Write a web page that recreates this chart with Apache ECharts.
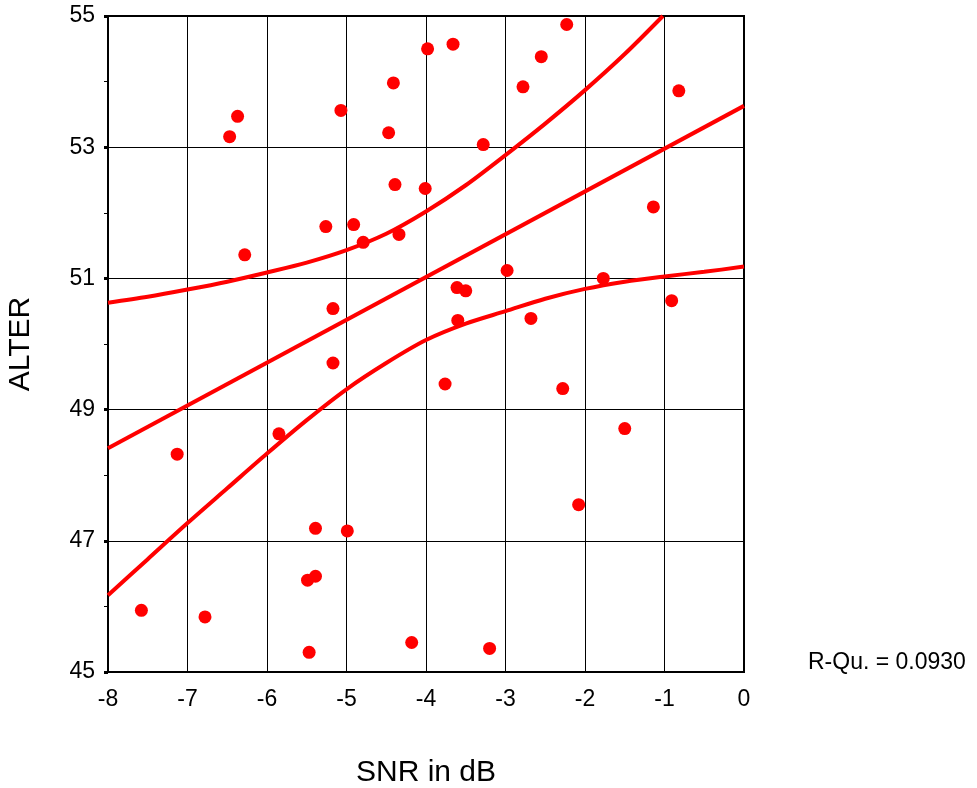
<!DOCTYPE html>
<html>
<head>
<meta charset="utf-8">
<script src="https://cdn.jsdelivr.net/npm/echarts@6/dist/echarts.min.js"></script>
<style>
  html, body { margin: 0; padding: 0; background: #fff; }
  #chart { width: 977px; height: 788px; }
</style>
</head>
<body>
<div id="chart"></div>
<script>
// scatter points: SNR in dB vs. ALTER
const snr = [-7.58, -7.13, -6.78, -6.47, -6.37, -6.28, -5.85, -5.49, -5.39, -5.39, -5.47,
  -5.26, -5.17, -5.17, -5.07, -4.99, -4.91, -4.79, -4.47, -4.41, -4.39, -4.34, -4.18,
  -4.01, -3.98, -3.76, -3.66, -3.61, -3.60, -3.50, -3.28, -3.20, -2.98, -2.78, -2.68,
  -2.55, -2.28, -2.23, -2.08, -1.77, -1.50, -1.14, -0.91, -0.82]
const alter = [45.94, 48.32, 45.84, 53.16, 53.47, 51.36, 48.63, 46.40, 46.46, 47.19, 45.30,
  51.79, 50.54, 49.71, 53.56, 47.15, 51.82, 51.55, 53.22, 53.98, 52.43, 51.67, 45.45,
  52.37, 54.50, 49.39, 54.57, 50.86, 50.36, 50.81, 53.04, 45.36, 51.12, 53.92, 50.39,
  54.38, 49.32, 54.87, 47.55, 51.00, 48.71, 52.09, 50.66, 53.86]

// regression line
const fitX = [-8, 0]
const fitY = [48.41, 53.63]

// confidence band
const upperX = [-8, -7.5, -7, -6.5, -6, -5.5, -5, -4.5, -4, -3.5, -3, -2.5, -2, -1.5, -1.02]
const upperY = [50.63, 50.72, 50.83, 50.95, 51.09, 51.24, 51.43, 51.68, 52.02, 52.42, 52.88, 53.36, 53.87, 54.42, 55.0]
const lowerX = [-8, -7.5, -7, -6.5, -6, -5.5, -5, -4.5, -4, -3.5, -3, -2.5, -2, -1.5, -1, -0.5, 0]
const lowerY = [46.17, 46.72, 47.27, 47.80, 48.33, 48.84, 49.31, 49.71, 50.06, 50.31, 50.50, 50.69, 50.84, 50.95, 51.03, 51.10, 51.18]

const rSquared = 'R-Qu. = 0.0930'

const zip = (xs, ys) => xs.map((x, i) => [x, ys[i]])
const font = 'Liberation Sans, Arial, sans-serif'
const red = '#ff0000'

const chart = echarts.init(document.getElementById('chart'))

const lineStyle = { color: red, width: 4 }

chart.setOption({
  animation: false,
  backgroundColor: '#fff',
  grid: {
    left: 108, right: 233, top: 16, bottom: 116,
    outerBoundsMode: 'none',
    show: true, borderColor: '#000', borderWidth: 2
  },
  xAxis: {
    type: 'value',
    min: -8, max: 0, interval: 1,
    name: 'SNR in dB',
    nameLocation: 'middle',
    nameGap: 86,
    nameTextStyle: { color: '#000', fontSize: 30, fontFamily: font },
    axisLine: { show: true, onZero: false, lineStyle: { color: '#000', width: 2 } },
    axisTick: { show: false },
    axisLabel: { color: '#000', fontSize: 23, fontFamily: font, margin: 16 },
    splitLine: { show: true, lineStyle: { color: '#000', width: 1 } }
  },
  yAxis: {
    type: 'value',
    min: 45, max: 55, interval: 2,
    name: 'ALTER',
    nameLocation: 'middle',
    nameGap: 72,
    nameTextStyle: { color: '#000', fontSize: 30, fontFamily: font },
    axisLine: { show: true, onZero: false, lineStyle: { color: '#000', width: 2 } },
    axisTick: { show: true, length: 4, lineStyle: { color: '#000', width: 3 } },
    minorTick: { show: true, splitNumber: 2, length: 4, lineStyle: { color: '#000', width: 1 } },
    axisLabel: { color: '#000', fontSize: 23, fontFamily: font, margin: 13 },
    splitLine: { show: true, lineStyle: { color: '#000', width: 1 } }
  },
  graphic: [{
    type: 'text',
    left: 808, top: 651,
    style: { text: rSquared, fill: '#000', fontSize: 23, fontFamily: font }
  }],
  series: [
    {
      type: 'scatter',
      data: zip(snr, alter),
      symbolSize: 13,
      itemStyle: { color: red, opacity: 1 },
      z: 3
    },
    { type: 'line', data: zip(fitX, fitY), symbol: 'none', lineStyle, z: 4 },
    { type: 'line', data: zip(upperX, upperY), symbol: 'none', smooth: 0.3, lineStyle, z: 4 },
    { type: 'line', data: zip(lowerX, lowerY), symbol: 'none', smooth: 0.3, lineStyle, z: 4 }
  ]
})

window.addEventListener('resize', () => chart.resize())
</script>
</body>
</html>
